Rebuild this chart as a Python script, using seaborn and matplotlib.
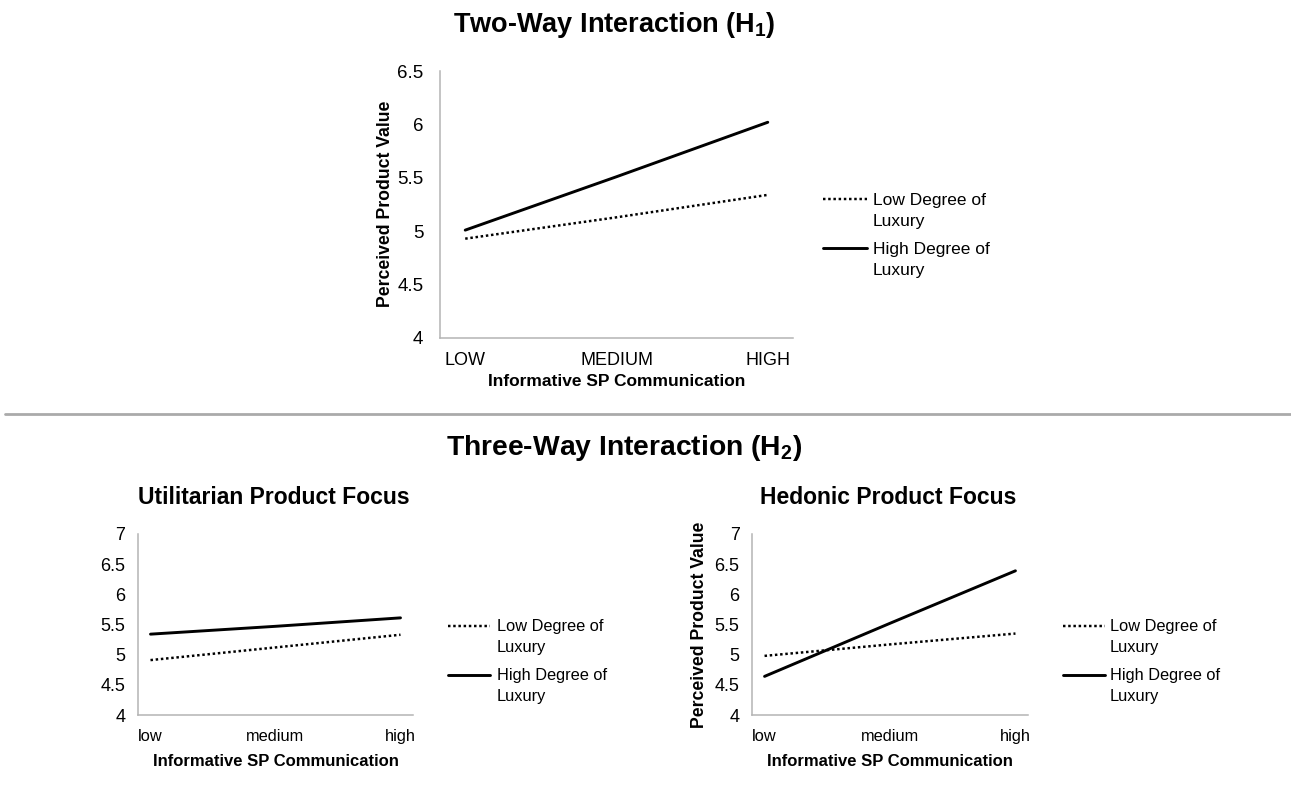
import matplotlib
matplotlib.use("Agg")
import matplotlib.pyplot as plt
import seaborn as sns
from matplotlib.lines import Line2D
from matplotlib.transforms import Bbox, TransformedBbox

# ─── Data ───────────────────────────────────────────────────
h1_levels    = ["LOW", "MEDIUM", "HIGH"]
h1_low_lux   = [4.93, 5.13, 5.34]
h1_high_lux  = [5.01, 5.51, 6.02]

h2_levels     = ["low", "medium", "high"]
util_low_lux  = [4.91, 5.12, 5.33]
util_high_lux = [5.34, 5.47, 5.61]
hed_low_lux   = [4.98, 5.17, 5.35]
hed_high_lux  = [4.64, 5.52, 6.39]

series_labels = ["Low Degree of\nLuxury", "High Degree of\nLuxury"]
y_label = "Perceived Product Value"
x_label = "Informative SP Communication"

# ─── Style ──────────────────────────────────────────────────
sns.set_style("white")
plt.rcParams["font.family"] = ["Liberation Sans", "DejaVu Sans"]
plt.rcParams["mathtext.fontset"] = "custom"
plt.rcParams["mathtext.rm"] = "Liberation Sans"
plt.rcParams["mathtext.bf"] = "Liberation Sans:bold"
plt.rcParams["text.color"] = "black"
plt.rcParams["axes.labelcolor"] = "black"
plt.rcParams["xtick.labelcolor"] = "black"
plt.rcParams["ytick.labelcolor"] = "black"

W, H = 1291, 808
fig = plt.figure(figsize=(W / 100, H / 100), dpi=100)
AXIS_GREY = "#b4b4b4"
DOT = (0, (1, 1.1))


def px_axes(left, top, right, bottom):
    return fig.add_axes([left / W, 1 - bottom / H, (right - left) / W, (bottom - top) / H])


def fx(x):
    return x / W


def fy(y):
    return 1 - y / H


def draw_panel(ax, levels, low, high, step, offset, n_slots, ylim, yticks,
               xfs, yfs, lw, ypad, ylen):
    pos = [offset + i * step for i in range(len(levels))]
    sns.lineplot(x=pos, y=low, ax=ax, color="black", lw=lw * 0.85,
                 linestyle=DOT, legend=False)
    sns.lineplot(x=pos, y=high, ax=ax, color="black", lw=lw, legend=False)
    lo, hi = n_slots
    ax.set_xlim(lo, hi)
    ax.set_ylim(*ylim)
    ax.set_xticks(pos)
    ax.set_xticklabels(levels, fontsize=xfs)
    ax.set_xticks(list(range(lo, hi + 1)), minor=True)
    ax.set_yticks(yticks)
    ax.set_yticklabels([f"{t:g}" for t in yticks], fontsize=yfs)
    for s in ["top", "right"]:
        ax.spines[s].set_visible(False)
    for s in ["left", "bottom"]:
        ax.spines[s].set_color(AXIS_GREY)
        ax.spines[s].set_linewidth(1.1)
    ax.tick_params(axis="y", which="major", color=AXIS_GREY, length=ylen, width=1, pad=ypad)
    ax.tick_params(axis="x", which="minor", color=AXIS_GREY, length=5, width=1)
    ax.tick_params(axis="x", which="major", length=0, pad=10)
    ax.set_xlabel("")
    ax.set_ylabel("")


def draw_legend(x0, x1, xt, y1, y2, fs, lw, gap):
    # handle sits on the first text line; labels wrap onto a second line
    for y, ls, lab, w in [(y1, DOT, series_labels[0], lw * 0.85),
                          (y2, "-", series_labels[1], lw)]:
        fig.add_artist(Line2D([fx(x0), fx(x1)], [fy(y), fy(y)],
                              transform=fig.transFigure, color="black",
                              lw=w, linestyle=ls))
        fig.text(fx(xt), fy(y + 6 + gap), lab, fontsize=fs, ha="left",
                 va="baseline", linespacing=1.5, transform=fig.transFigure)


# ─── Top: two-way interaction ───────────────────────────────
fig.text(fx(614), fy(25), r"Two-Way Interaction (H$_\mathbf{1}$)",
         fontsize=19.5, fontweight="bold", ha="center", va="center")

ax1 = px_axes(440, 71, 793, 338)
draw_panel(ax1, h1_levels, h1_low_lux, h1_high_lux, step=6, offset=0,
           n_slots=(-1, 13), ylim=(4, 6.5), yticks=[4, 4.5, 5, 5.5, 6, 6.5],
           xfs=13, yfs=13.5, lw=2.1, ypad=8, ylen=4)
fig.text(fx(617), fy(382), x_label, fontsize=12.5, fontweight="bold",
         ha="center", va="center")
fig.text(fx(385), fy(204), y_label, fontsize=12.7, fontweight="bold",
         rotation=90, ha="center", va="center")
draw_legend(823, 867, 873, 199, 248, 12.5, 2.1, gap=21)

# separator
fig.add_artist(Line2D([fx(5), 1], [fy(414), fy(414)], transform=fig.transFigure,
                      color="#aaaaaa", lw=2))

# ─── Bottom: three-way interaction ──────────────────────────
fig.text(fx(624), fy(448), r"Three-Way Interaction (H$_\mathbf{2}$)",
         fontsize=20.3, fontweight="bold", ha="center", va="center")

panels = [
    ("Utilitarian Product Focus", util_low_lux, util_high_lux, 138, 413, 274, 448, 497),
    ("Hedonic Product Focus", hed_low_lux, hed_high_lux, 752, 1028, 888, 1063, 1110),
]
for title, low, high, left, right, tx, lx, ltx in panels:
    ax = px_axes(left, 534, right, 715)
    draw_panel(ax, h2_levels, low, high, step=5, offset=0.5,
               n_slots=(0, 11), ylim=(4, 7), yticks=[4, 4.5, 5, 5.5, 6, 6.5, 7],
               xfs=11.8, yfs=13, lw=2.1, ypad=6, ylen=3)
    fig.text(fx(tx), fy(497), title, fontsize=16.5, fontweight="bold",
             ha="center", va="center")
    fig.text(fx((left + right) / 2), fy(762), x_label, fontsize=12,
             fontweight="bold", ha="center", va="center")
    yl = fig.text(fx(left - 53), fy(625), y_label, fontsize=12.7,
                  fontweight="bold", rotation=90, ha="center", va="center")
    # the reference crops the left-most panel label at the image edge region
    yl.set_clip_box(TransformedBbox(Bbox([[fx(90), 0], [1, 1]]), fig.transFigure))
    yl.set_clip_on(True)
    draw_legend(lx, lx + 42, ltx, 626, 675, 11.8, 2.1, gap=20)

fig.savefig("out.png", dpi=100, facecolor="white")
